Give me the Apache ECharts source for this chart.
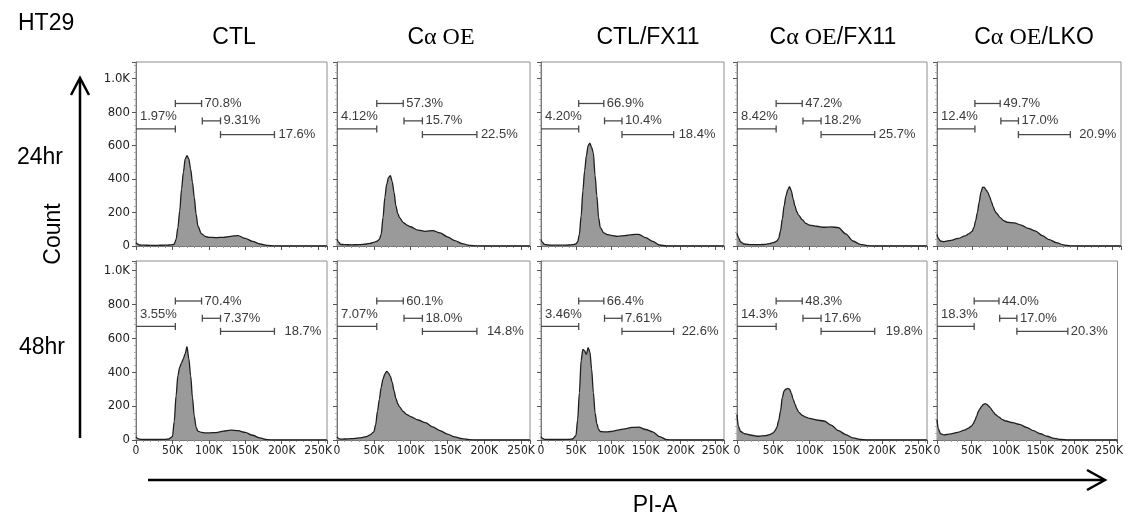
<!DOCTYPE html>
<html>
<head>
<meta charset="utf-8">
<script src="https://cdn.jsdelivr.net/npm/echarts@6/dist/echarts.min.js"></script>
<style>
  html, body { margin: 0; padding: 0; background: #fff; }
  #chart { width: 1126px; height: 519px; }
</style>
</head>
<body>
<div id="chart"></div>
<script>
// PI-A bin positions (K)
const binsK = [0, 2, 5, 10, 20, 30, 40, 45, 50, 52.5, 55, 57.5, 60, 62.5, 65, 67.5, 70, 72.5, 75, 77.5,
               80, 82.5, 85, 90, 95, 100, 110, 120, 130, 140, 150, 160, 170, 180, 190, 200, 220, 262];

// counts, 24hr row
const ctl24     = [20, 12, 6, 5, 4, 4, 5, 6, 8, 12, 40, 110, 210, 340, 440, 520, 540, 520, 460, 380,
                   290, 190, 118, 72, 58, 52, 50, 52, 58, 62, 45, 28, 12, 4, 1, 0, 0, 0];
const caOE24    = [40, 25, 10, 8, 7, 8, 12, 16, 22, 26, 30, 40, 70, 170, 290, 370, 410, 420, 385, 320,
                   240, 195, 170, 140, 125, 115, 95, 88, 92, 78, 55, 32, 14, 4, 1, 0, 0, 0];
const ctlFX24   = [38, 22, 10, 6, 5, 5, 6, 8, 12, 25, 70, 180, 330, 450, 540, 600, 615, 590, 555, 420,
                   300, 170, 110, 78, 68, 64, 58, 62, 68, 70, 50, 28, 6, 0, 0, 0, 0, 0];
const caOEFX24  = [75, 50, 25, 12, 8, 8, 10, 14, 20, 24, 30, 45, 90, 160, 240, 300, 335, 355, 330, 280,
                   240, 205, 185, 158, 135, 125, 118, 112, 114, 110, 72, 30, 10, 2, 0, 0, 0, 0];
const caOELKO24 = [70, 45, 30, 26, 34, 45, 60, 72, 88, 110, 150, 200, 260, 320, 352, 350, 335, 320, 295, 265,
                   235, 210, 195, 170, 152, 142, 138, 125, 105, 90, 62, 38, 20, 7, 1, 0, 0, 0];

// counts, 48hr row
const ctl48     = [18, 10, 5, 3, 3, 3, 4, 6, 20, 110, 260, 380, 430, 455, 480, 510, 550, 480, 380, 250,
                   140, 75, 52, 45, 42, 42, 44, 52, 58, 55, 45, 28, 12, 2, 0, 0, 0, 0];
const caOE48    = [18, 10, 5, 6, 8, 12, 20, 30, 48, 90, 170, 240, 310, 360, 390, 405, 395, 375, 340, 290,
                   245, 215, 195, 168, 150, 138, 118, 102, 78, 55, 35, 18, 8, 2, 0, 0, 0, 0];
const ctlFX48   = [20, 10, 4, 3, 3, 3, 4, 6, 25, 120, 280, 470, 535, 525, 505, 545, 520, 420, 280, 160,
                   95, 62, 50, 48, 48, 50, 58, 66, 74, 76, 62, 48, 20, 2, 0, 0, 0, 0];
const caOEFX48  = [150, 80, 50, 38, 28, 22, 26, 32, 42, 55, 75, 115, 170, 250, 290, 300, 305, 300, 275, 240,
                   212, 185, 165, 145, 135, 127, 118, 112, 88, 55, 32, 12, 3, 0, 0, 0, 0, 0];
const caOELKO48 = [120, 65, 38, 30, 36, 45, 58, 68, 82, 95, 115, 140, 168, 185, 200, 210, 215, 210, 200, 190,
                   175, 162, 150, 135, 120, 112, 102, 92, 75, 55, 37, 22, 10, 3, 0, 0, 0, 0];

const rows = [
    [ctl24, caOE24, ctlFX24, caOEFX24, caOELKO24],
    [ctl48, caOE48, ctlFX48, caOEFX48, caOELKO48]
];

// gates: x range (K) and height (count) per gate
const gateX = [[0, 54], [54, 90], [91, 116], [116, 190]];
const gateY24 = [700, 852, 748, 666];
const gateY48 = [670, 820, 718, 641];

const pct24 = [
    ['1.97%', '70.8%', '9.31%', '17.6%'],
    ['4.12%', '57.3%', '15.7%', '22.5%'],
    ['4.20%', '66.9%', '10.4%', '18.4%'],
    ['8.42%', '47.2%', '18.2%', '25.7%'],
    ['12.4%', '49.7%', '17.0%', '20.9%']
];
const pct48 = [
    ['3.55%', '70.4%', '7.37%', '18.7%'],
    ['7.07%', '60.1%', '18.0%', '14.8%'],
    ['3.46%', '66.4%', '7.61%', '22.6%'],
    ['14.3%', '48.3%', '17.6%', '19.8%'],
    ['18.3%', '44.0%', '17.0%', '20.3%']
];

const yMaxRow = [1100, 1056];
const xMax = 262144;

// layout
const colLeft = [136, 337, 541, 737, 937];
const colWidth = [191, 193, 183, 190, 184];
const rowTop = [62, 261];
const rowHeight = [184, 179];
const lastGap = [[4, 4, 5, 4, 9], [10, 10, 8, 11, 3]];

const tickFont = 'DejaVu Sans Condensed, DejaVu Sans';

const chart = echarts.init(document.getElementById('chart'));

const grids = [], xAxes = [], yAxes = [], series = [];

rows.forEach(function (rowData, r) {
    rowData.forEach(function (counts, c) {
        const idx = grids.length;
        grids.push({
            left: colLeft[c], top: rowTop[r], width: colWidth[c], height: rowHeight[r],
            show: true, borderColor: '#8e8e8e', borderWidth: 1, backgroundColor: '#fff'
        });
        xAxes.push({
            gridIndex: idx, type: 'value', min: 0, max: xMax, interval: 50000,
            axisLine: { show: true, lineStyle: { color: '#777', width: 1 } },
            axisTick: { show: true, length: 4, lineStyle: { color: '#555' } },
            minorTick: { show: true, splitNumber: 5, length: 2, lineStyle: { color: '#999' } },
            splitLine: { show: false },
            axisLabel: {
                show: r === 1, margin: 5, fontSize: 12, fontFamily: tickFont, color: '#222',
                formatter: function (v) {
                    if (v === 0) return '0';
                    return v % 50000 === 0 ? (v / 1000) + 'K' : '';
                }
            }
        });
        yAxes.push({
            gridIndex: idx, type: 'value', min: 0, max: yMaxRow[r], interval: 200,
            axisLine: { show: true, lineStyle: { color: '#777', width: 1 } },
            axisTick: { show: true, length: 4, lineStyle: { color: '#555' } },
            minorTick: { show: true, splitNumber: 5, length: 2, lineStyle: { color: '#aaa' } },
            splitLine: { show: false },
            axisLabel: {
                show: c === 0, margin: 6, fontSize: 13, fontFamily: tickFont, color: '#222',
                formatter: function (v) {
                    if (v === 1000) return '1.0K';
                    return (v % 200 === 0 && v < 1000) ? String(v) : '';
                }
            }
        });
        series.push({
            type: 'line', xAxisIndex: idx, yAxisIndex: idx,
            data: binsK.map(function (x, i) { return [x * 1000, counts[i]]; }),
            symbol: 'none', smooth: 0.3, smoothMonotone: 'x',
            lineStyle: { color: '#1e1e1e', width: 1.3 },
            areaStyle: { color: '#9a9a9a', opacity: 1 },
            silent: true, animation: false, z: 2
        });

        const gy = r === 0 ? gateY24 : gateY48;
        const labels = r === 0 ? pct24[c] : pct48[c];
        const gap = lastGap[r][c];
        series.push({
            type: 'custom', xAxisIndex: idx, yAxisIndex: idx,
            data: gateX.map(function (g, k) { return [g[0] * 1000, g[1] * 1000, gy[k]]; }),
            silent: true, animation: false, z: 5,
            renderItem: function (params, api) {
                const k = params.dataIndex;
                const p1 = api.coord([api.value(0), api.value(2)]);
                const p2 = api.coord([api.value(1), api.value(2)]);
                const stroke = { stroke: '#4a4a4a', lineWidth: 1.3 };
                const children = [
                    { type: 'line', shape: { x1: p1[0], y1: p1[1], x2: p2[0], y2: p2[1] }, style: stroke },
                    { type: 'line', shape: { x1: p2[0], y1: p2[1] - 3.5, x2: p2[0], y2: p2[1] + 3.5 }, style: stroke }
                ];
                if (k > 0) {
                    children.push({ type: 'line', shape: { x1: p1[0], y1: p1[1] - 3.5, x2: p1[0], y2: p1[1] + 3.5 }, style: stroke });
                }
                let tx, ty;
                if (k === 0) { tx = p1[0] + 4; ty = p1[1] - 12; }
                else if (k === 3) { tx = p2[0] + gap; ty = p2[1]; }
                else { tx = p2[0] + 3; ty = p2[1]; }
                children.push({
                    type: 'text', x: tx, y: ty,
                    style: {
                        text: labels[k], fill: '#3a3a3a', fontSize: 13,
                        fontFamily: 'Liberation Sans, Arial', align: 'left', verticalAlign: 'middle'
                    }
                });
                return { type: 'group', children: children };
            }
        });
    });
});

const sans = 'Liberation Sans, Arial';
const serif = 'Liberation Serif, Times New Roman';
const titleRich = {
    s: { fontFamily: sans, fontSize: 23, color: '#000' },
    g: { fontFamily: serif, fontSize: 24, color: '#000' }
};
const titles = ['{s|CTL}', '{s|C}{g|α OE}', '{s|CTL/FX11}', '{s|C}{g|α OE}{s|/FX11}', '{s|C}{g|α OE}{s|/LKO}'];
const titleX = [234, 441, 648, 833, 1034];

const graphics = titles.map(function (t, i) {
    return {
        type: 'text', x: titleX[i], y: 38,
        style: { text: t, rich: titleRich, align: 'center', verticalAlign: 'middle' }
    };
});

graphics.push(
    { type: 'text', x: 18, y: 24, style: { text: 'HT29', fontFamily: sans, fontSize: 23, fill: '#000', align: 'left', verticalAlign: 'middle' } },
    { type: 'text', x: 40, y: 158, style: { text: '24hr', fontFamily: sans, fontSize: 23, fill: '#000', align: 'center', verticalAlign: 'middle' } },
    { type: 'text', x: 42, y: 348, style: { text: '48hr', fontFamily: sans, fontSize: 23, fill: '#000', align: 'center', verticalAlign: 'middle' } },
    { type: 'text', x: 54, y: 234, rotation: Math.PI / 2, style: { text: 'Count', fontFamily: sans, fontSize: 23, fill: '#000', align: 'center', verticalAlign: 'middle' } },
    { type: 'text', x: 655, y: 506, style: { text: 'PI-A', fontFamily: sans, fontSize: 23, fill: '#000', align: 'center', verticalAlign: 'middle' } },
    // vertical arrow
    { type: 'polyline', shape: { points: [[80, 438], [80, 79]] }, style: { stroke: '#000', lineWidth: 2.5, fill: null } },
    { type: 'polyline', shape: { points: [[71, 95], [80, 78], [89, 95]] }, style: { stroke: '#000', lineWidth: 2.5, fill: null } },
    // horizontal arrow
    { type: 'polyline', shape: { points: [[148, 480], [1104, 480]] }, style: { stroke: '#000', lineWidth: 2.5, fill: null } },
    { type: 'polyline', shape: { points: [[1087, 470], [1105, 480], [1087, 490]] }, style: { stroke: '#000', lineWidth: 2.5, fill: null } }
);

chart.setOption({
    animation: false,
    backgroundColor: '#fff',
    grid: grids,
    xAxis: xAxes,
    yAxis: yAxes,
    series: series,
    graphic: graphics
});

window.addEventListener('resize', function () { chart.resize(); });
</script>
</body>
</html>
